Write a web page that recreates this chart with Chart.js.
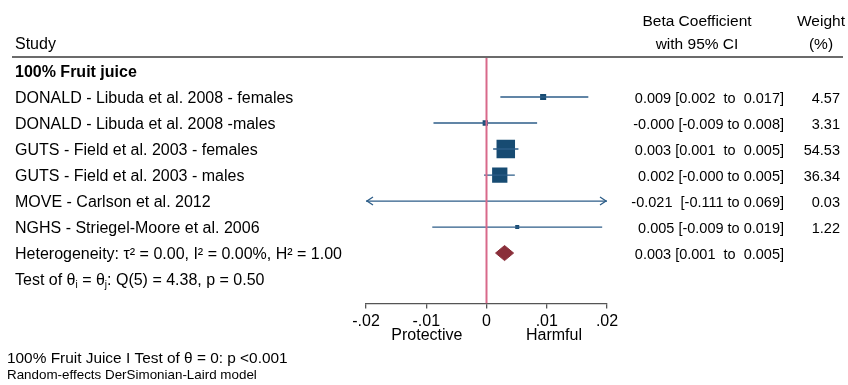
<!DOCTYPE html>
<html><head><meta charset="utf-8">
<script src="https://cdn.jsdelivr.net/npm/chart.js@4"></script>
<style>html,body{margin:0;padding:0;background:#fff}canvas{display:block}</style>
</head><body>
<canvas id="c" width="848" height="385"></canvas>
<script>
// ---- data ----
const subgroup = '100% Fruit juice';
const studies = [
  'DONALD - Libuda et al. 2008 - females',
  'DONALD - Libuda et al. 2008 -males',
  'GUTS - Field et al. 2003 - females',
  'GUTS - Field et al. 2003 - males',
  'MOVE - Carlson et al. 2012',
  'NGHS - Striegel-Moore et al. 2006'
];
const estimates = [0.0094, -0.0002, 0.0032, 0.0022, -0.021, 0.0051];
const lowerCI   = [0.0023, -0.0088, 0.0011, -0.0004, -0.111, -0.0090];
const upperCI   = [0.0169, 0.0084, 0.0053, 0.0047, 0.069, 0.0192];
const weights   = [4.57, 3.31, 54.53, 36.34, 0.03, 1.22];
const ciLabels  = [
  '0.009 [0.002  to  0.017]',
  '-0.000 [-0.009 to 0.008]',
  '0.003 [0.001  to  0.005]',
  '0.002 [-0.000 to 0.005]',
  '-0.021  [-0.111 to 0.069]',
  '0.005 [-0.009 to 0.019]'
];
const weightLabels = ['4.57', '3.31', '54.53', '36.34', '0.03', '1.22'];
const pooledEst = 0.003;
const pooledLo = 0.0015;
const pooledHi = 0.0045;
const pooledLabel = '0.003 [0.001  to  0.005]';
const heterogeneityText = 'Heterogeneity: \u03C4\u00B2 = 0.00, I\u00B2 = 0.00%, H\u00B2 = 1.00';
const testParts = ['Test of \u03B8', 'i', ' = \u03B8', 'j', ': Q(5) = 4.38, p = 0.50'];
const footerLines = ['100% Fruit Juice I Test of \u03B8 = 0: p <0.001', 'Random-effects DerSimonian-Laird model'];
const tickValues = [-0.02, -0.01, 0, 0.01, 0.02];
const tickLabels = ['-.02', '-.01', '0', '.01', '.02'];
const xMin = -0.02, xMax = 0.02;

// ---- styles ----
const FONT = '"Liberation Sans", Arial, Helvetica, sans-serif';
const NAVY = '#174b72';
const LINE = '#2c5d88';
const PINK = '#d8698a';
const DIAMOND = '#8a2f3a';
const yMin = -0.5, yMax = 8.94;
const pooledRow = studies.length + 1;
const TY = 1.5; // text vertical nudge

const datasets = [];
datasets.push({
  data: [{x: 0, y: yMin}, {x: 0, y: yMax}],
  showLine: true, borderColor: PINK, borderWidth: 2, pointRadius: 0
});
studies.forEach((s, i) => {
  datasets.push({
    data: [{x: lowerCI[i], y: i + 1}, {x: upperCI[i], y: i + 1}],
    showLine: true, borderColor: LINE, borderWidth: 1.3, pointRadius: 0
  });
});
const maxW = Math.max(...weights);
datasets.push({
  data: estimates.map((e, i) => ({x: e, y: i + 1})),
  pointStyle: 'rect',
  pointRadius: weights.map(w => Math.max(4, 17.5 * Math.sqrt(w / maxW) + 1) / Math.SQRT2),
  pointBackgroundColor: NAVY, pointBorderColor: NAVY, pointBorderWidth: 0
});
const dh = 0.29;
datasets.push({
  data: [
    {x: pooledLo, y: pooledRow}, {x: pooledEst, y: pooledRow - dh},
    {x: pooledHi, y: pooledRow}, {x: pooledEst, y: pooledRow + dh},
    {x: pooledLo, y: pooledRow}
  ],
  showLine: true, fill: 'shape', backgroundColor: DIAMOND, borderColor: DIAMOND,
  borderWidth: 1, pointRadius: 0, tension: 0
});

function txt(ctx, s, x, y, align, font) {
  ctx.font = font;
  ctx.textAlign = align;
  ctx.textBaseline = 'middle';
  ctx.fillStyle = '#000';
  ctx.fillText(s, x, y);
}

const overlay = {
  id: 'overlay',
  afterDatasetsDraw(chart) {
    const ctx = chart.ctx;
    const xs = chart.scales.x, ys = chart.scales.y;
    ctx.save();
    ctx.strokeStyle = LINE; ctx.lineWidth = 1.3;
    studies.forEach((s, i) => {
      const y = ys.getPixelForValue(i + 1);
      if (lowerCI[i] < xMin) {
        const x = xs.getPixelForValue(xMin);
        ctx.beginPath(); ctx.moveTo(x + 7, y - 4); ctx.lineTo(x + 1, y); ctx.lineTo(x + 7, y + 4); ctx.stroke();
      }
      if (upperCI[i] > xMax) {
        const x = xs.getPixelForValue(xMax);
        ctx.beginPath(); ctx.moveTo(x - 7, y - 4); ctx.lineTo(x - 1, y); ctx.lineTo(x - 7, y + 4); ctx.stroke();
      }
    });
    ctx.restore();
  },
  afterDraw(chart) {
    const ctx = chart.ctx;
    const xs = chart.scales.x, ys = chart.scales.y;
    const F = '16px ' + FONT;
    const FH = '15.5px ' + FONT;
    const FN = '14.5px ' + FONT;
    ctx.save();
    // headers
    txt(ctx, 'Study', 15, 45, 'left', F);
    txt(ctx, 'Beta Coefficient', 697, 22, 'center', FH);
    txt(ctx, 'with 95% CI', 697, 45, 'center', FH);
    txt(ctx, 'Weight', 821, 22, 'center', FH);
    txt(ctx, '(%)', 821, 45, 'center', FH);
    ctx.strokeStyle = '#3a3a3a'; ctx.lineWidth = 1.5;
    ctx.beginPath(); ctx.moveTo(12, 57); ctx.lineTo(843, 57); ctx.stroke();
    // subgroup
    txt(ctx, subgroup, 15, ys.getPixelForValue(0) + TY, 'left', 'bold 16px ' + FONT);
    studies.forEach((s, i) => {
      const y = ys.getPixelForValue(i + 1) + TY;
      txt(ctx, s, 15, y, 'left', F);
      txt(ctx, ciLabels[i], 784, y, 'right', FN);
      txt(ctx, weightLabels[i], 840, y, 'right', FN);
    });
    const py = ys.getPixelForValue(pooledRow) + TY;
    txt(ctx, heterogeneityText, 15, py, 'left', F);
    txt(ctx, pooledLabel, 784, py, 'right', FN);
    const ty = ys.getPixelForValue(pooledRow + 1) + TY;
    let x = 15;
    testParts.forEach((p, k) => {
      const sub = k === 1 || k === 3;
      const f = sub ? '10px ' + FONT : F;
      txt(ctx, p, x, sub ? ty + 5 : ty, 'left', f);
      x += ctx.measureText(p).width;
    });
    txt(ctx, 'Protective', xs.getPixelForValue(-0.0099), 336, 'center', F);
    txt(ctx, 'Harmful', xs.getPixelForValue(0.0112), 336, 'center', F);
    txt(ctx, footerLines[0], 7, 359, 'left', '15.4px ' + FONT);
    txt(ctx, footerLines[1], 7, 375, 'left', '13.4px ' + FONT);
    ctx.restore();
  }
};

new Chart(document.getElementById('c'), {
  type: 'scatter',
  data: {datasets},
  options: {
    responsive: false,
    animation: false,
    devicePixelRatio: 1,
    layout: {padding: {left: 366, right: 241, top: 58, bottom: 41.5}},
    plugins: {legend: {display: false}, tooltip: {enabled: false}},
    elements: {line: {tension: 0}},
    scales: {
      x: {
        type: 'linear', position: 'bottom', min: xMin, max: xMax,
        afterBuildTicks: s => { s.ticks = tickValues.map(v => ({value: v})); },
        afterFit: s => { s.height = 40; },
        ticks: {
          callback: (v, i) => tickLabels[i],
          font: {size: 16, family: FONT}, color: '#000',
          maxRotation: 0, autoSkip: false, padding: 3
        },
        grid: {drawOnChartArea: false, drawTicks: true, tickLength: 5, color: '#555', lineWidth: 1.3},
        border: {display: true, color: '#555', width: 1.3}
      },
      y: {type: 'linear', display: false, min: yMin, max: yMax, reverse: true}
    }
  },
  plugins: [overlay]
});
</script>
</body></html>
